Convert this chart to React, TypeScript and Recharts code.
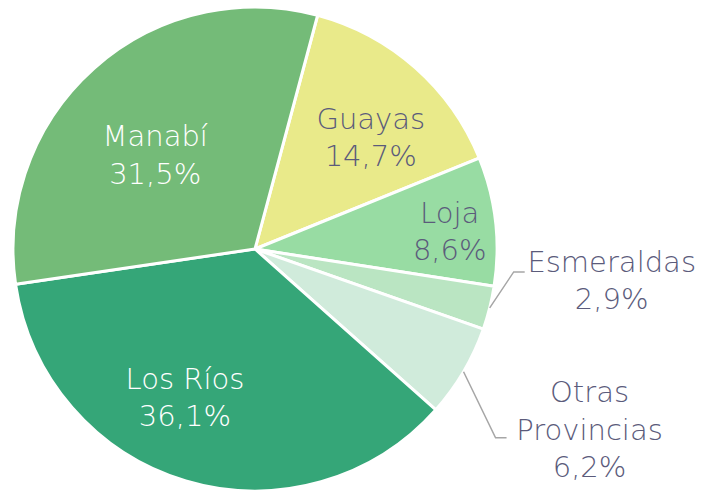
import { Pie, PieChart, Cell } from "recharts";

const provinces = ["Guayas", "Loja", "Esmeraldas", "Otras Provincias", "Los Ríos", "Manabí"];
const shares = [14.7, 8.6, 2.9, 6.2, 36.1, 31.5];
const sliceColors = ["#E9EA8A", "#98DCA3", "#BAE5C2", "#D0EBDB", "#35A678", "#74BB78"];
const labelColors = ["#5B5B7B", "#5B5B7B", "#5B5B7B", "#5B5B7B", "#FFFFFF", "#FFFFFF"];

const data = provinces.map((name, i) => ({ name, value: shares[i] }));

const RAD = Math.PI / 180;
const FONT = "'DejaVu Sans', sans-serif";
const FS = 29;
const LINE_H = 37.5;

// inner labels: fraction of radius along the mid angle, plus a small nudge
const insideR: Record<number, [number, number, number]> = {
  0: [0.66, 10, 8],
  1: [0.81, 0, 5],
  4: [0.68, -23, -9],
  5: [0.57, -8, 9],
};
// leader line elbow offsets for the small slices
const elbow: Record<number, [number, number]> = { 2: [24, -36], 3: [32, 66] };

const fmt = (v: number) => v.toFixed(1).replace(".", ",") + "%";

const renderLabel = (props: any) => {
  const { cx, cy, midAngle, outerRadius, index } = props;
  const lines =
    index === 3 ? ["Otras", "Provincias", fmt(shares[index])] : [provinces[index], fmt(shares[index])];
  const color = labelColors[index];

  if (insideR[index] !== undefined) {
    const [f, nx, ny] = insideR[index];
    const r = outerRadius * f;
    const x = cx + r * Math.cos(-midAngle * RAD) + nx;
    const y = cy + r * Math.sin(-midAngle * RAD) + ny;
    const top = y - ((lines.length - 1) * LINE_H) / 2;
    return (
      <text x={x} y={top} fill={color} textAnchor="middle" dominantBaseline="central" fontFamily={FONT} fontSize={FS} fontWeight={300}>
        {lines.map((l, i) => (
          <tspan key={i} x={x} y={top + i * LINE_H}>{l}</tspan>
        ))}
      </text>
    );
  }

  const ex = cx + outerRadius * Math.cos(-midAngle * RAD);
  const ey = cy + outerRadius * Math.sin(-midAngle * RAD);
  const [ox, oy] = elbow[index];
  const bx = ex + ox;
  const by = ey + oy;
  const hx = bx + 11;
  const tx = index === 3 ? hx + 83 : hx + 87;
  const mid = index === 3 ? 1 : 0;
  const top = by - mid * LINE_H - 10 + (index === 3 ? 2 : 0);
  return (
    <g>
      <polyline points={`${ex},${ey} ${bx},${by} ${hx},${by}`} fill="none" stroke="#A6A6A6" strokeWidth={1.5} />
      <text x={tx} y={top} fill={color} textAnchor="middle" dominantBaseline="central" fontFamily={FONT} fontSize={FS} fontWeight={300}>
        {lines.map((l, i) => (
          <tspan key={i} x={tx} y={top + i * LINE_H}>{l}</tspan>
        ))}
      </text>
    </g>
  );
};

export default function App() {
  return (
    <div style={{ position: "absolute", left: 0, top: 0, width: 711, height: 492, background: "#fff" }}>
      <PieChart width={711} height={492} margin={{ top: 0, right: 0, bottom: 0, left: 0 }}>
        <Pie
          data={data}
          dataKey="value"
          nameKey="name"
          cx={255}
          cy={249}
          outerRadius={242}
          startAngle={75}
          endAngle={-285}
          stroke="#FFFFFF"
          strokeWidth={3}
          label={renderLabel}
          labelLine={false}
          isAnimationActive={false}
        >
          {data.map((d, i) => (
            <Cell key={d.name} fill={sliceColors[i]} />
          ))}
        </Pie>
      </PieChart>
    </div>
  );
}
